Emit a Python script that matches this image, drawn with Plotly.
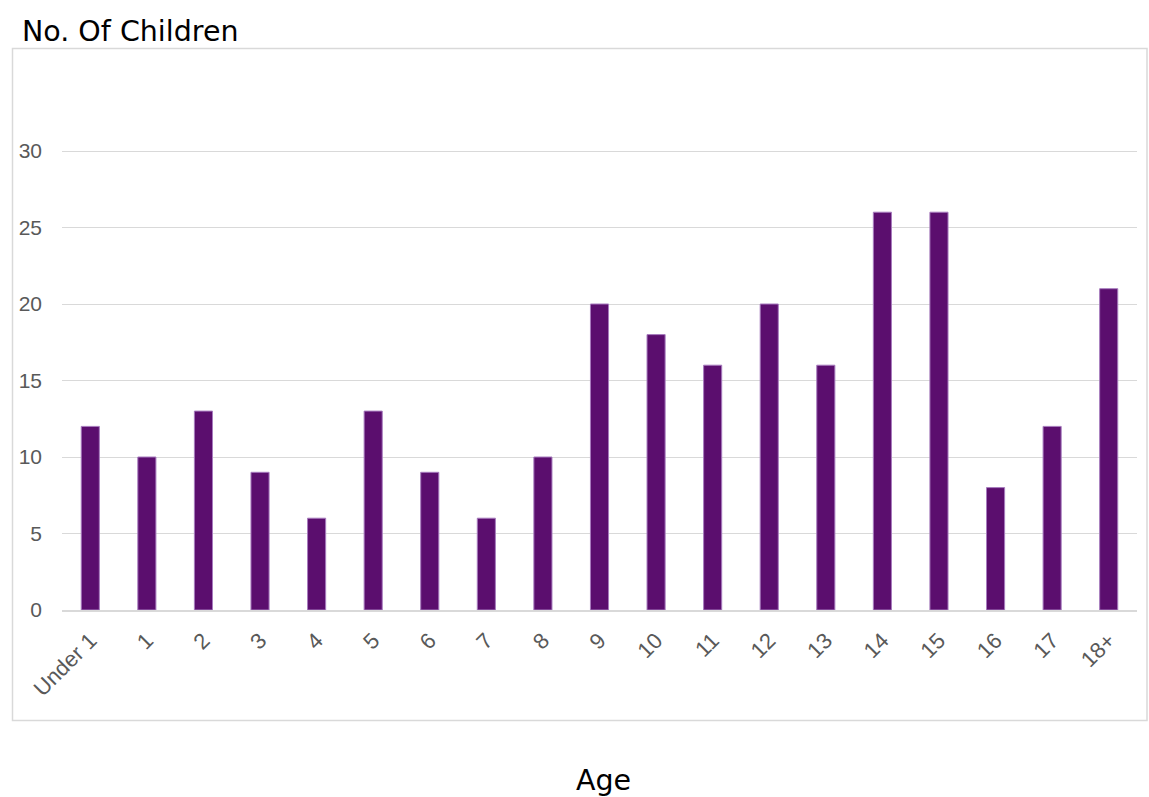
import plotly.graph_objects as go

W, H = 1149, 797

ages = ["Under 1", "1", "2", "3", "4", "5", "6", "7", "8", "9", "10",
        "11", "12", "13", "14", "15", "16", "17", "18+"]
children = [12, 10, 13, 9, 6, 13, 9, 6, 10, 20, 18, 16, 20, 16, 26, 26, 8, 12, 21]
y_ticks = [0, 5, 10, 15, 20, 25, 30]

bar_color = "#5B0E6E"
grid_color = "#D9D9D9"
tick_color = "#595959"


def px_x(x):
    return x / W


def px_y(y):
    return 1 - y / H


fig = go.Figure(
    go.Bar(
        x=ages,
        y=children,
        marker=dict(color=bar_color, line=dict(color="#A77BBE", width=1)),
    )
)

fig.update_layout(
    width=W,
    height=H,
    margin=dict(l=0, r=0, t=0, b=0),
    paper_bgcolor="white",
    plot_bgcolor="white",
    bargap=0.68,
    showlegend=False,
    font=dict(family="Liberation Sans, Arial, sans-serif", color=tick_color),
    xaxis=dict(
        domain=[px_x(62), px_x(1137)],
        automargin=False,
        tickangle=-45,
        tickfont=dict(size=22, color=tick_color),
        showgrid=False,
        showline=True,
        linecolor=grid_color,
        linewidth=2,
        ticks="",
        ticklabelstandoff=7,
    ),
    yaxis=dict(
        domain=[px_y(610), px_y(74.5)],
        automargin=False,
        range=[0, 35],
        tickvals=y_ticks,
        tickfont=dict(size=21, color=tick_color),
        showgrid=True,
        gridcolor=grid_color,
        gridwidth=1,
        zeroline=False,
        showline=False,
        ticks="",
        ticklabelstandoff=19,
    ),
    shapes=[
        dict(
            type="rect", xref="paper", yref="paper",
            x0=px_x(12.5), x1=px_x(1147), y0=px_y(720.5), y1=px_y(48.5),
            line=dict(color=grid_color, width=1.5), fillcolor="rgba(0,0,0,0)",
            layer="below",
        )
    ],
    annotations=[
        dict(
            text="No. Of Children", xref="paper", yref="paper",
            x=px_x(20), y=px_y(32), xanchor="left", yanchor="middle",
            showarrow=False,
            font=dict(family="DejaVu Sans, Verdana, sans-serif", size=28.5, color="black"),
        ),
        dict(
            text="Age", xref="paper", yref="paper",
            x=px_x(603), y=px_y(780), xanchor="center", yanchor="middle",
            showarrow=False,
            font=dict(family="DejaVu Sans, Verdana, sans-serif", size=28.5, color="black"),
        ),
    ],
)

fig.write_html("out.html")
